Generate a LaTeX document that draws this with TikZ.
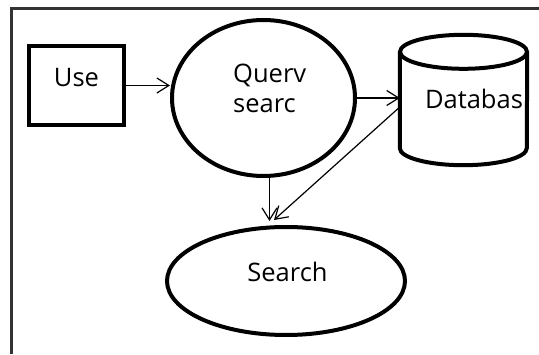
\documentclass[tikz,border=0pt]{standalone}
\usepackage{fontspec}
\setmainfont{Open Sans}
\usetikzlibrary{arrows.meta,shapes.geometric,calc}
\begin{document}
\begin{tikzpicture}[x=1pt,y=1pt,
  thickline/.style={draw=black,line width=4pt},
  boxnode/.style={thickline,rectangle,inner sep=0pt},
  ovalnode/.style={thickline,ellipse,inner sep=0pt},
  txt/.style={font=\fontsize{25.5}{30}\selectfont,inner sep=0pt},
  arr/.style={line width=1.2pt,-{Straight Barb[length=12pt,width=15pt,line width=1.2pt]}}]
  \useasboundingbox (0,0) rectangle (539,354);
  % outer frame (left and top edges only)
  \draw[line width=2.4pt,draw=black!80] (11.5,0) -- (11.5,345.5) -- (539,345.5);

  % shapes
  \node[boxnode,minimum width=95pt,minimum height=79pt] (user) at (76.5,268.5) {};
  \node[ovalnode,minimum width=183pt,minimum height=156pt] (query) at (263.5,256) {};
  \node[ovalnode,minimum width=238pt,minimum height=108pt] (search) at (286,73) {};
  \node[inner sep=0pt,minimum width=127pt,minimum height=130pt] (db) at (463.5,254) {};

  % database cylinder
  \draw[thickline,fill=white] (db.north west) ++(0,-17) coordinate (dbtl)
    -- ($(db.south west)+(0,17)$) arc (180:360:63.5 and 17)
    -- ($(db.north east)+(0,-17)$);
  \draw[thickline] ($(db.north)+(0,-17)$) ellipse (63.5 and 17);

  % labels
  \node[txt] at ([yshift=8pt]user.center) {Use};
  \node[txt,anchor=base west,align=left] at (233,241) {Querv\\searc};
  \node[txt] at (474,255) {Databas};
  \node[txt] at (287.5,82.5) {Search};

  % connectors
  \coordinate (dbout) at ([yshift=-7pt]db.west);
  \coordinate (searchin) at ([xshift=-12pt,yshift=5pt]search.north);
  \draw[arr] (user.east) -- (user.east -| query.west);
  \draw[arr] (query.east) -- (query.east -| db.west);
  \draw[arr] ([xshift=6pt]query.south) -- ([xshift=6pt,yshift=4pt]query.south |- search.north);
  \draw[arr] (dbout) -- (searchin);
\end{tikzpicture}
\end{document}
